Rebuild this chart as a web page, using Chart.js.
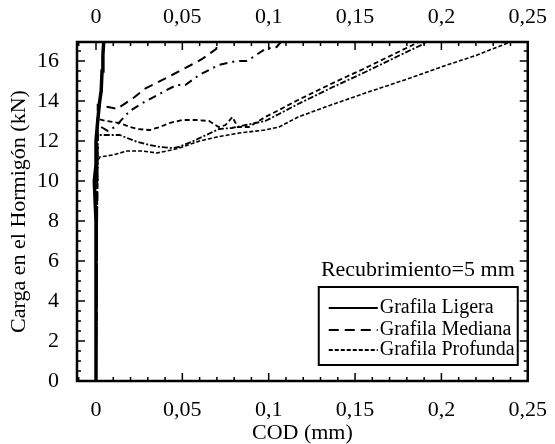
<!DOCTYPE html>
<html lang="es">
<head>
    <meta charset="UTF-8">
    <title>Carga vs COD</title>
    <script src="https://cdn.jsdelivr.net/npm/chart.js"></script>
    <style>
        html, body { margin: 0; padding: 0; background: #fff; }
        #wrap { width: 555px; height: 444px; }
    </style>
</head>
<body>
<div id="wrap"><canvas id="chart" width="555" height="444"></canvas></div>
<script>
    // --- datos (COD en mm, carga en kN) ---
    const xTicks = [0, 0.05, 0.1, 0.15, 0.2, 0.25];
    const xTickLabels = ['0', '0,05', '0,1', '0,15', '0,2', '0,25'];
    const yTicks = [0, 2, 4, 6, 8, 10, 12, 14, 16];

    const legendLabels = ['Grafila Ligera', 'Grafila Mediana', 'Grafila Profunda'];
    const coverText = 'Recubrimiento=5 mm';

    // ligera: la rama casi vertical junto a COD = 0
    const codLigera1 = [0, 0, -0.001, 0, 0, 0.001, 0.002, 0.003, 0.0035, 0.004, 0.0045];
    const cargaLigera1 = [0, 8, 10, 10.8, 12, 13, 13.9, 14.5, 15.5, 16.3, 17];

    // ligera: curva que baja hasta 11,7 y sube hasta 0,19
    const codLigera2 = [0, 0.001, 0.0138, 0.018, 0.0235, 0.031, 0.037, 0.0443, 0.048, 0.0557, 0.0638, 0.0713, 0.0787, 0.0868, 0.098, 0.106, 0.117, 0.136, 0.156, 0.175, 0.192];
    const cargaLigera2 = [0, 12.3, 12.3, 12.15, 11.97, 11.8, 11.7, 11.65, 11.7, 11.97, 12.3, 12.6, 12.65, 12.8, 13.0, 13.35, 13.85, 14.65, 15.45, 16.25, 16.95];

    // mediana: las dos curvas superiores
    const codMediana1 = [0, 0.001, 0.007, 0.0126, 0.0138, 0.0224, 0.028, 0.035, 0.044, 0.055, 0.0615, 0.0695, 0.0713];
    const cargaMediana1 = [0, 13.8, 13.7, 13.6, 13.7, 14.2, 14.6, 14.9, 15.3, 15.8, 16.1, 16.6, 16.95];
    const codMediana2 = [0, 0.001, 0.007, 0.011, 0.0195, 0.027, 0.0356, 0.0466, 0.0517, 0.0598, 0.071, 0.0816, 0.087, 0.091, 0.098, 0.1046, 0.107];
    const cargaMediana2 = [0, 12.8, 12.5, 12.7, 13.5, 13.9, 14.3, 14.8, 14.8, 15.3, 15.8, 16.0, 16.0, 16.2, 16.6, 16.7, 16.95];

    // profunda: curva con el pico en 0,08 y curva inferior hasta 0,24
    const codProfunda1 = [0, 0.001, 0.006, 0.0138, 0.0195, 0.024, 0.031, 0.037, 0.0425, 0.05, 0.058, 0.0655, 0.071, 0.075, 0.079, 0.082, 0.0885, 0.098, 0.106, 0.117, 0.136, 0.156, 0.175, 0.187];
    const cargaProfunda1 = [0, 13.1, 13.0, 12.9, 12.7, 12.6, 12.55, 12.7, 12.9, 13.05, 13.05, 13.0, 12.7, 12.8, 13.2, 12.7, 12.7, 13.2, 13.55, 14.05, 14.85, 15.65, 16.45, 16.95];
    const codProfunda2 = [0, 0, 0.0023, 0.0098, 0.0178, 0.027, 0.035, 0.044, 0.05, 0.06, 0.07, 0.083, 0.098, 0.106, 0.117, 0.136, 0.156, 0.163, 0.182, 0.2015, 0.2207, 0.234, 0.24];
    const cargaProfunda2 = [0, 10.9, 11.2, 11.3, 11.5, 11.5, 11.4, 11.55, 11.7, 12.0, 12.2, 12.4, 12.55, 12.7, 13.2, 13.8, 14.4, 14.6, 15.15, 15.75, 16.3, 16.75, 16.95];

    const toPoints = (xs, ys) => xs.map((x, i) => ({ x: x, y: ys[i] }));

    const serif = "'Liberation Serif', 'Times New Roman', serif";
    Chart.defaults.font.family = serif;
    Chart.defaults.color = '#000';

    function serie(label, xs, ys, width, dash) {
        return { label: label, data: toPoints(xs, ys), showLine: true, borderColor: '#000',
                 borderWidth: width, borderDash: dash, pointRadius: 0, tension: 0, fill: false };
    }

    // marco y marcas hacia dentro (mayores y menores) en los cuatro lados
    const framePlugin = {
        id: 'frame',
        afterDatasetsDraw(chart) {
            const { ctx, chartArea: a, scales } = chart;
            const x = scales.x, y = scales.y;
            ctx.save();
            ctx.strokeStyle = '#000';
            ctx.lineWidth = 1.5;
            ctx.beginPath();
            for (let v = -0.01; v <= 0.2501; v += 0.01) {
                const px = x.getPixelForValue(v);
                const major = Math.abs(v / 0.05 - Math.round(v / 0.05)) < 1e-6;
                const len = major ? 8 : 4;
                ctx.moveTo(px, a.bottom); ctx.lineTo(px, a.bottom - len);
                ctx.moveTo(px, a.top); ctx.lineTo(px, a.top + len);
            }
            for (let v = 0; v <= 16.9; v += 0.5) {
                const py = y.getPixelForValue(v);
                const len = (v % 2 === 0) ? 8 : 4;
                ctx.moveTo(a.left, py); ctx.lineTo(a.left + len, py);
                ctx.moveTo(a.right, py); ctx.lineTo(a.right - len, py);
            }
            ctx.stroke();
            ctx.lineWidth = 2.5;
            ctx.strokeRect(a.left, a.top, a.right - a.left, a.bottom - a.top);

            // texto del recubrimiento y leyenda
            ctx.fillStyle = '#000';
            ctx.font = '22px ' + serif;
            ctx.textAlign = 'right';
            ctx.textBaseline = 'middle';
            ctx.fillText(coverText, a.right - 13, a.bottom - 111);

            const box = { l: a.right - 209, r: a.right - 10, t: a.bottom - 94, b: a.bottom - 16 };
            ctx.fillStyle = '#fff';
            ctx.fillRect(box.l, box.t, box.r - box.l, box.b - box.t);
            ctx.lineWidth = 2;
            ctx.strokeRect(box.l, box.t, box.r - box.l, box.b - box.t);
            const dashes = [[], [10, 6], [4, 2]];
            const rowY = [box.t + 21, box.t + 43, box.t + 63];
            ctx.font = '20px ' + serif;
            ctx.textAlign = 'left';
            ctx.fillStyle = '#000';
            legendLabels.forEach((txt, i) => {
                ctx.beginPath();
                ctx.setLineDash(dashes[i]);
                ctx.lineWidth = 2;
                ctx.moveTo(box.l + 10, rowY[i]);
                ctx.lineTo(box.l + 59, rowY[i]);
                ctx.stroke();
                ctx.setLineDash([]);
                ctx.fillText(txt, box.l + 61, rowY[i]);
            });
            ctx.restore();
        }
    };

    const setTicks = (vals) => (scale) => { scale.ticks = vals.map(v => ({ value: v })); };
    const xLabel = (v) => { const i = xTicks.indexOf(v); return i >= 0 ? xTickLabels[i] : ''; };

    new Chart(document.getElementById('chart'), {
        type: 'scatter',
        data: {
            datasets: [
                serie(legendLabels[0], codLigera1, cargaLigera1, 3.5, []),
                serie(legendLabels[0], codLigera2, cargaLigera2, 1.8, [6, 2, 2, 2]),
                serie(legendLabels[1], codMediana1, cargaMediana1, 2, [9, 6]),
                serie(legendLabels[1], codMediana2, cargaMediana2, 2, [8, 5, 2, 5]),
                serie(legendLabels[2], codProfunda1, cargaProfunda1, 1.8, [5, 3]),
                serie(legendLabels[2], codProfunda2, cargaProfunda2, 1.6, [4, 2])
            ]
        },
        options: {
            responsive: false,
            animation: false,
            layout: { padding: { right: 22 } },
            plugins: { legend: { display: false }, tooltip: { enabled: false } },
            scales: {
                x: {
                    type: 'linear', position: 'bottom', min: -0.011, max: 0.25,
                    afterBuildTicks: setTicks(xTicks),
                    afterFit: (s) => { s.height = 63; },
                    grid: { display: false }, border: { display: false },
                    ticks: { padding: 8, maxRotation: 0, font: { size: 22 }, callback: xLabel },
                    title: { display: true, text: 'COD (mm)', font: { size: 22, lineHeight: 1 }, padding: { top: 0, bottom: 0 } }
                },
                x2: {
                    type: 'linear', position: 'top', min: -0.011, max: 0.25,
                    afterBuildTicks: setTicks(xTicks),
                    afterFit: (s) => { s.height = 42; },
                    grid: { display: false }, border: { display: false },
                    ticks: { padding: 4, maxRotation: 0, font: { size: 22 }, callback: xLabel }
                },
                y: {
                    type: 'linear', position: 'left', min: 0, max: 16.95,
                    afterBuildTicks: setTicks(yTicks),
                    afterFit: (s) => { s.width = 77; },
                    grid: { display: false }, border: { display: false },
                    ticks: { padding: 10, font: { size: 22 } },
                    title: { display: true, text: 'Carga en el Hormigón (kN)', font: { size: 22, lineHeight: 1.2 }, padding: { top: 6, bottom: 0 } }
                }
            }
        },
        plugins: [framePlugin]
    });
</script>
</body>
</html>
